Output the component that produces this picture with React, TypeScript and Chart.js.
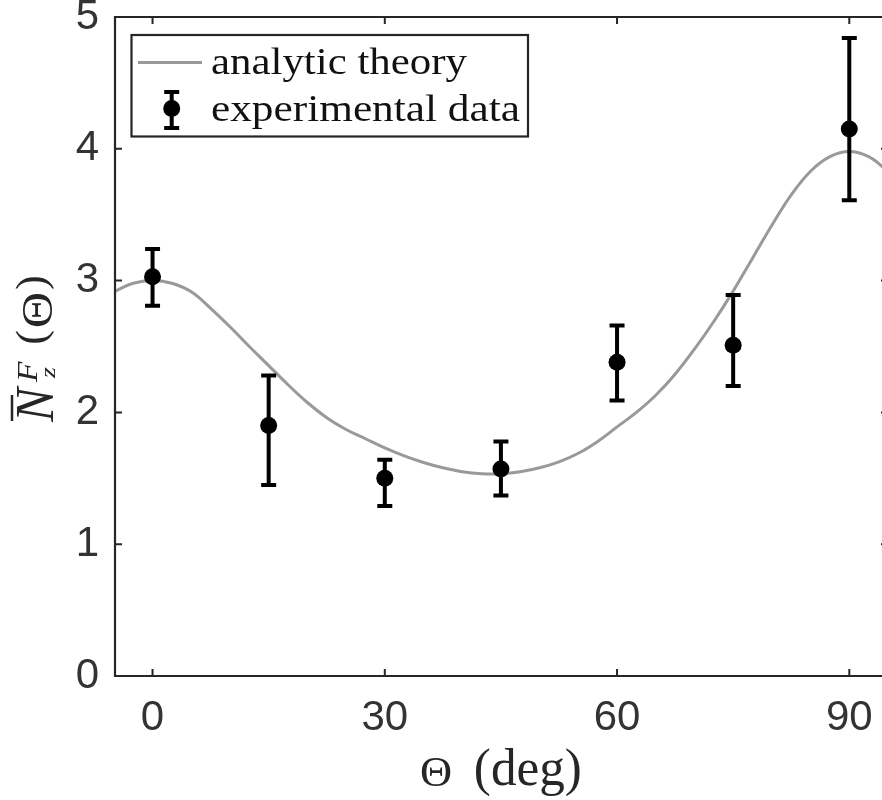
import React, { useEffect, useRef } from 'react';
import { Chart, registerables } from 'chart.js';

Chart.register(...registerables);

// analytic theory curve
const thetaTheory = [-5, -2.5, 0, 2.5, 5, 7.5, 10, 12.5, 15, 17.5, 20, 22.5, 25, 27.5, 30, 32.5, 35, 37.5, 40, 42.5, 45, 47.5, 50, 52.5, 55, 57.5, 60, 62.5, 65, 67.5, 70, 72.5, 75, 77.5, 80, 82.5, 85, 87.5, 90, 92.5, 95];
const nTheory = [2.915, 2.98, 3.0, 2.98, 2.915, 2.79, 2.65, 2.5, 2.355, 2.21, 2.075, 1.96, 1.87, 1.8, 1.73, 1.67, 1.62, 1.58, 1.55, 1.535, 1.535, 1.55, 1.58, 1.625, 1.69, 1.78, 1.89, 2.0, 2.13, 2.29, 2.48, 2.69, 2.92, 3.17, 3.42, 3.65, 3.83, 3.94, 3.98, 3.94, 3.83];

// experimental data
const thetaExp = [0, 15, 30, 45, 60, 75, 90];
const nExp = [3.03, 1.9, 1.5, 1.57, 2.38, 2.51, 4.15];
const nExpLow = [2.81, 1.45, 1.29, 1.37, 2.09, 2.2, 3.61];
const nExpHigh = [3.24, 2.28, 1.64, 1.78, 2.66, 2.89, 4.84];

const xTicks = [0, 30, 60, 90];
const yTicks = [0, 1, 2, 3, 4, 5];

const legendLabels = ['analytic theory', 'experimental data'];

const AX = '#262626';
const GRAY = '#999999';
const SERIF = '"Liberation Serif", "Times New Roman", serif';
const DSERIF = '"DejaVu Serif", serif';
const SANS = '"Liberation Sans", Arial, Helvetica, sans-serif';

function fillFit(ctx: CanvasRenderingContext2D, text: string, x: number, y: number, w: number) {
  const m = ctx.measureText(text).width;
  const s = w / m;
  ctx.save();
  ctx.translate(x, y);
  ctx.scale(s, 1);
  ctx.fillText(text, 0, 0);
  ctx.restore();
}

// draw text so that its ink bounding box fills [x0,x1] x [top,bottom]
function fillBox(ctx: CanvasRenderingContext2D, text: string, x0: number, x1: number, top: number, bottom: number) {
  ctx.textAlign = 'left';
  ctx.textBaseline = 'alphabetic';
  const m = ctx.measureText(text);
  const w = m.actualBoundingBoxLeft + m.actualBoundingBoxRight;
  const h = m.actualBoundingBoxAscent + m.actualBoundingBoxDescent;
  ctx.save();
  ctx.translate(x0, top);
  ctx.scale((x1 - x0) / w, (bottom - top) / h);
  ctx.fillText(text, m.actualBoundingBoxLeft, m.actualBoundingBoxAscent);
  ctx.restore();
}

function errorMark(ctx: CanvasRenderingContext2D, px: number, py: number, lo: number, hi: number) {
  ctx.strokeStyle = '#000';
  ctx.lineWidth = 4;
  ctx.lineCap = 'butt';
  ctx.beginPath();
  ctx.moveTo(px, lo);
  ctx.lineTo(px, hi);
  ctx.moveTo(px - 7.5, lo);
  ctx.lineTo(px + 7.5, lo);
  ctx.moveTo(px - 7.5, hi);
  ctx.lineTo(px + 7.5, hi);
  ctx.stroke();
  ctx.fillStyle = '#000';
  ctx.beginPath();
  ctx.arc(px, py, 8.5, 0, Math.PI * 2);
  ctx.fill();
}

const decorPlugin = {
  id: 'decor',
  afterDatasetsDraw(chart: any) {
    const ctx: CanvasRenderingContext2D = chart.ctx;
    const xs = chart.scales.x;
    const ys = chart.scales.y;
    ctx.save();
    for (let i = 0; i < thetaExp.length; i++) {
      errorMark(
        ctx,
        xs.getPixelForValue(thetaExp[i]),
        ys.getPixelForValue(nExp[i]),
        ys.getPixelForValue(nExpLow[i]),
        ys.getPixelForValue(nExpHigh[i])
      );
    }
    ctx.restore();
  },
  afterDraw(chart: any) {
    const ctx: CanvasRenderingContext2D = chart.ctx;
    const xs = chart.scales.x;
    const ys = chart.scales.y;
    const ca = chart.chartArea;

    ctx.save();
    // axes box
    ctx.strokeStyle = AX;
    ctx.lineWidth = 2.2;
    ctx.beginPath();
    ctx.rect(ca.left, ca.top, ca.right - ca.left, ca.bottom - ca.top);
    ctx.stroke();
    // inward ticks
    const tl = 7;
    ctx.lineWidth = 2;
    ctx.beginPath();
    for (const v of xTicks) {
      const p = xs.getPixelForValue(v);
      ctx.moveTo(p, ca.bottom);
      ctx.lineTo(p, ca.bottom - tl);
      ctx.moveTo(p, ca.top);
      ctx.lineTo(p, ca.top + tl);
    }
    for (const v of yTicks) {
      const p = ys.getPixelForValue(v);
      ctx.moveTo(ca.left, p);
      ctx.lineTo(ca.left + tl, p);
      ctx.moveTo(ca.right, p);
      ctx.lineTo(ca.right - tl, p);
    }
    ctx.stroke();

    // legend
    const lx = 131.5, ly = 35, lw = 396.5, lh = 101.5;
    ctx.fillStyle = '#fff';
    ctx.fillRect(lx, ly, lw, lh);
    ctx.strokeStyle = AX;
    ctx.lineWidth = 2.2;
    ctx.strokeRect(lx, ly, lw, lh);
    ctx.strokeStyle = GRAY;
    ctx.lineWidth = 3;
    ctx.beginPath();
    ctx.moveTo(138, 62.5);
    ctx.lineTo(202, 62.5);
    ctx.stroke();
    errorMark(ctx, 171.7, 108.5, 128, 92);
    ctx.fillStyle = '#111';
    ctx.font = `38px ${SERIF}`;
    ctx.textAlign = 'left';
    ctx.textBaseline = 'alphabetic';
    fillFit(ctx, legendLabels[0], 211, 73.5, 256);
    fillFit(ctx, legendLabels[1], 211, 120.5, 309);

    // x axis title: Θ (deg)
    ctx.fillStyle = AX;
    ctx.font = `40px ${SERIF}`;
    fillBox(ctx, 'Θ', 421, 451, 758, 786);
    ctx.font = `44px ${SERIF}`;
    fillBox(ctx, '(deg)', 475, 580, 747, 797);

    // y axis title: rotated N̄_z^F(Θ)
    ctx.save();
    ctx.translate(53, 423);
    ctx.rotate(-Math.PI / 2);
    ctx.fillStyle = AX;
    ctx.font = `italic 54px ${SERIF}`;
    fillBox(ctx, 'N', 0, 38, -36, 0);
    ctx.strokeStyle = AX;
    ctx.lineWidth = 2.5;
    ctx.beginPath();
    ctx.moveTo(2, -41);
    ctx.lineTo(28, -41);
    ctx.stroke();
    ctx.font = `italic 32px ${SERIF}`;
    fillBox(ctx, 'F', 40, 62, -35, -16);
    ctx.font = `italic 28px ${SERIF}`;
    fillBox(ctx, 'z', 44, 56, -8, 2);
    ctx.font = `48px ${SERIF}`;
    fillBox(ctx, '(', 80, 92, -38, 2);
    fillBox(ctx, ')', 134, 146, -38, 2);
    ctx.font = `40px ${SERIF}`;
    fillBox(ctx, 'Θ', 96, 130, -30, -1);
    ctx.restore();

    ctx.restore();
  },
};

export default function App() {
  const ref = useRef<HTMLCanvasElement>(null);
  useEffect(() => {
    if (!ref.current) return;
    const chart = new Chart(ref.current, {
      type: 'scatter',
      data: {
        datasets: [
          {
            label: legendLabels[1],
            data: thetaExp.map((x, i) => ({ x, y: nExp[i] })),
            pointRadius: 0,
            backgroundColor: '#000',
            borderColor: '#000',
            showLine: false,
          },
          {
            type: 'line',
            label: legendLabels[0],
            data: thetaTheory.map((x, i) => ({ x, y: nTheory[i] })),
            borderColor: GRAY,
            borderWidth: 3,
            pointRadius: 0,
            fill: false,
            tension: 0.4,
            clip: 0,
          } as any,
        ],
      },
      options: {
        responsive: false,
        animation: false,
        devicePixelRatio: 1,
        layout: { padding: { top: 17, right: 4, left: 0, bottom: 0 } },
        plugins: { legend: { display: false }, tooltip: { enabled: false } },
        scales: {
          x: {
            type: 'linear',
            min: -4.85,
            max: 95,
            afterBuildTicks: (s: any) => {
              s.ticks = xTicks.map((v) => ({ value: v }));
            },
            afterFit: (s: any) => {
              s.height = 124;
              s.paddingLeft = 0;
              s.paddingRight = 0;
            },
            grid: { display: false, drawTicks: false },
            border: { display: false },
            ticks: {
              font: { family: SANS, size: 42 },
              color: '#333',
              padding: 17,
              maxRotation: 0,
              autoSkip: false,
            },
          },
          y: {
            type: 'linear',
            min: 0,
            max: 5,
            afterBuildTicks: (s: any) => {
              s.ticks = yTicks.map((v) => ({ value: v }));
            },
            afterFit: (s: any) => {
              s.width = 115;
              s.paddingTop = 0;
              s.paddingBottom = 0;
            },
            grid: { display: false, drawTicks: false },
            border: { display: false },
            ticks: {
              font: { family: SANS, size: 42 },
              color: '#333',
              padding: 16,
              autoSkip: false,
            },
          },
        },
      },
      plugins: [decorPlugin],
    });
    return () => chart.destroy();
  }, []);
  return (
    <div style={{ position: 'fixed', left: 0, top: 0, width: 882, height: 800, overflow: 'hidden', background: '#fff' }}>
      <canvas ref={ref} width={892} height={800} style={{ display: 'block' }} />
    </div>
  );
}
